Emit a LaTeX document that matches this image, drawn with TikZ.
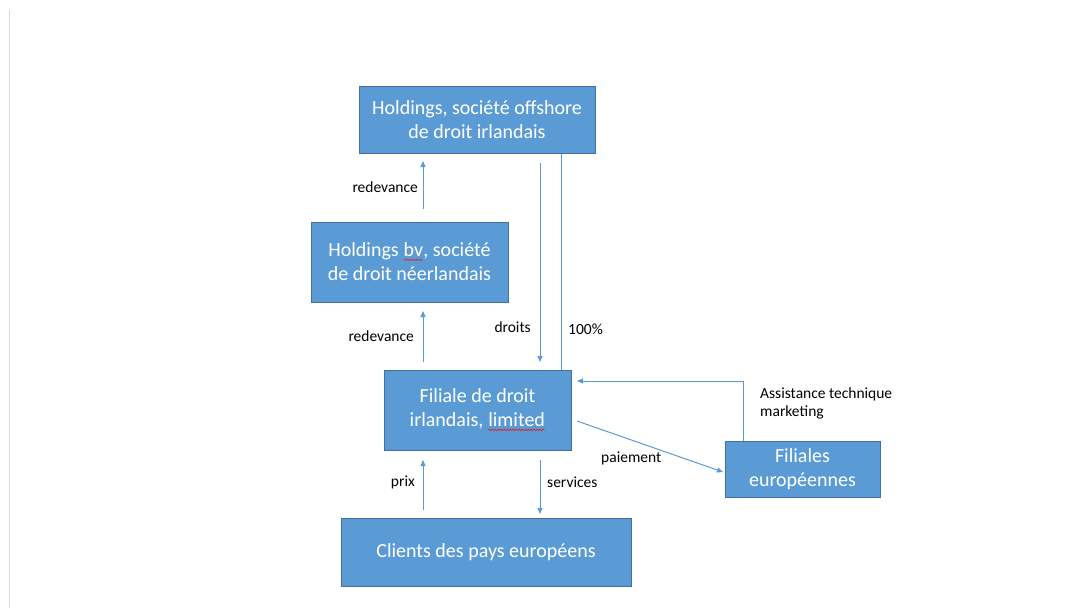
\documentclass[tikz,border=0pt]{standalone}
\usepackage{fontspec}
\setmainfont{Carlito}
\usetikzlibrary{arrows.meta,decorations.pathmorphing}
\definecolor{boxfill}{HTML}{5B9BD5}
\definecolor{boxline}{HTML}{41719C}
\definecolor{arrcol}{HTML}{5B9BD5}
\definecolor{squig}{HTML}{E02020}
\newcommand{\spellmark}[1]{\tikz[baseline=(sm.base),x=1pt,y=1pt]{%
  \node[inner sep=0pt, outer sep=0pt, minimum width=0pt, minimum height=0pt,
        draw=none, fill=none, text=white] (sm) {#1};
  \draw[squig, line width=0.6pt, decorate, decoration={snake, segment length=3pt, amplitude=0.8pt}]
    ([yshift=-3pt]sm.base west) -- ([yshift=-3pt]sm.base east);}}
\tikzset{
  box/.style={draw=boxline, line width=1pt, fill=boxfill, text=white,
    align=center, inner sep=0pt, font=\fontsize{20}{24}\selectfont},
  lbl/.style={text=black, font=\fontsize{15.5}{18}\selectfont, inner sep=0pt},
  arr/.style={draw=arrcol, line width=1pt, -{Triangle[width=5pt,length=6pt]}},
  link/.style={draw=arrcol, line width=1pt}
}
\begin{document}
\begin{tikzpicture}[x=1pt,y=-1pt]
\useasboundingbox (0,0) rectangle (1067,608);
\draw[color=black!15, line width=1pt] (9,10) -- (9,608);

\node[box, minimum width=236pt, minimum height=67pt] (b1) at (477,119.5)
  {Holdings, société offshore\\de droit irlandais};
\node[box, minimum width=197pt, minimum height=80pt] (b2) at (409.5,262)
  {Holdings \spellmark{bv}, société\\de droit néerlandais};
\node[box, minimum width=187pt, minimum height=80pt] (b3) at (477.5,410)
  {Filiale de droit\\irlandais, \spellmark{limited}};
\node[box, minimum width=155pt, minimum height=56pt] (b4) at (802.5,469)
  {Filiales\\européennes};
\node[box, minimum width=290pt, minimum height=68pt] (b5) at (486,552)
  {Clients des pays européens};

% connector end points
\coordinate (r1s) at (423,209);
\coordinate (r1e) at (423,161);
\coordinate (r2s) at (423,362);
\coordinate (r2e) at (423,311);
\coordinate (ds) at (540,163);
\coordinate (de) at (540,362);
\coordinate (ps) at (423,510);
\coordinate (pe) at (423,460);
\coordinate (ss) at (540,460);
\coordinate (se) at (540,514);
\coordinate (pays) at (577,421);
\coordinate (paye) at (723,472);
\coordinate (ae) at (577,381);

\draw[arr] (r1s) -- (r1e);
\draw[arr] (r2s) -- (r2e);
\draw[arr] (ds) -- (de);
\draw[arr] (ps) -- (pe);
\draw[arr] (ss) -- (se);
\draw[arr] (pays) -- (paye);
\draw[link] (b1.south -| 561,0) -- (b3.north -| 561,0);
\draw[arr] (b4.north -| 743,0) |- (ae);

\node[lbl, anchor=east] (l1) at (418,187) {redevance};
\node[lbl, anchor=east] (l2) at (414,336) {redevance};
\node[lbl, anchor=east] (l3) at (531,327) {droits};
\node[lbl, anchor=west] (l4) at (568,329) {100\%};
\node[lbl, anchor=west, align=left, font=\fontsize{15.5}{18}\selectfont] (l5) at (760,403) {Assistance technique\\marketing};
\node[lbl, anchor=west] (l6) at (601,458) {paiement};
\node[lbl, anchor=east] (l7) at (415,482) {prix};
\node[lbl, anchor=west] (l8) at (547,482) {services};
\end{tikzpicture}
\end{document}
